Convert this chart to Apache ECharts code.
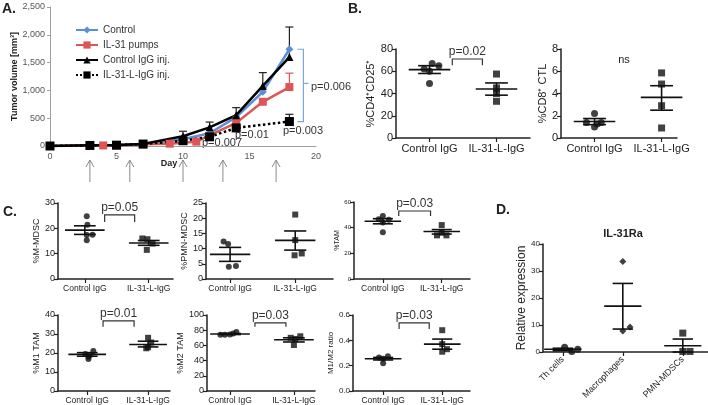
<!DOCTYPE html>
<html><head><meta charset="utf-8">
<script src="https://cdn.jsdelivr.net/npm/echarts@6/dist/echarts.min.js"></script>
<style>html,body{margin:0;padding:0;background:#fff}#c{width:708px;height:405px}</style>
</head><body><div id="c"></div>
<script>
// ================= DATA =================
// Panel A: tumor volume (mm3) by day
const ctrlDays = [0, 3, 5, 7, 10, 12, 14, 16, 18];
const ctrlVol  = [0, 10, 15, 35, 120, 230, 520, 975, 1740];
const pumpDays = [0, 4, 5, 7, 9, 11, 14, 16, 18];
const pumpVol  = [0, 10, 12, 30, 42, 78, 416, 795, 1060];
const igDays   = [0, 3, 5, 7, 10, 12, 14, 16, 18];
const igVol    = [0, 12, 18, 38, 175, 335, 555, 1080, 1600];
const lDays    = [0, 3, 5, 7, 10, 12, 14, 18];
const lVol     = [0, 10, 15, 35, 95, 165, 325, 440];
const igErrDays = [10, 12, 14, 16, 18];
const igErrTop  = [265, 430, 690, 1320, 2140];
const pumpErrDays = [18];
const pumpErrTop  = [1310];
const lErrDays = [18];
const lErrTop  = [570];
const injectionDays = [3, 6, 10, 13, 17];
const seriesNamesA = ['Control', 'IL-31 pumps', 'Control IgG inj.', 'IL-31-L-IgG inj.'];
const pA = ['p=0.006', 'p=0.003', 'p=0.01', 'p=0.007'];

const twoGroups = ['Control IgG', 'IL-31-L-IgG'];
// [position, value] — position = group index with the horizontal scatter seen in the picture
const cd4Ctrl = [[1.0, 49], [0.92, 62], [1.0, 60], [1.04, 67], [1.14, 65]];
const cd4Il31 = [[2.0, 57.5], [2.0, 45], [2.0, 40], [2.0, 33]];
const cd4Stats = [[61.5, 58, 65], [44, 38.5, 49.5]];
const cd8Ctrl = [[1.0, 2.2], [0.88, 1.4], [1.0, 1.0], [1.1, 1.4], [1.04, 1.25]];
const cd8Il31 = [[2.0, 5.85], [2.0, 4.85], [2.0, 2.9], [2.0, 0.9]];
const cd8Stats = [[1.48, 1.2, 1.75], [3.65, 2.5, 4.7]];
const mmdscCtrl = [[1.03, 24.8], [1.04, 21.4], [1.03, 17.4], [1.12, 17.5], [1.03, 15.3]];
const mmdscIl31 = [[1.9, 16.0], [1.98, 15.7], [2.06, 14.0], [1.97, 11.5]];
const mmdscStats = [[19.3, 17.6, 21.0], [14.2, 13.3, 15.2]];
const pmnCtrl = [[0.9, 12.3], [0.97, 11.5], [0.98, 4.0], [1.09, 4.3]];
const pmnIl31 = [[2.0, 21.2], [2.0, 12.8], [2.1, 8.4], [1.99, 7.8]];
const pmnStats = [[8.1, 5.8, 10.4], [12.7, 9.5, 15.8]];
const tamCtrl = [[1.0, 49], [0.93, 46.5], [1.1, 46.2], [1.0, 44], [1.0, 36.5]];
const tamIl31 = [[2.0, 42], [2.0, 36], [1.92, 34], [2.08, 34]];
const tamStats = [[45, 43, 47], [37, 35, 38.5]];
const m1Ctrl = [[1.1, 21], [0.97, 19.5], [1.05, 19], [1.02, 18], [1.02, 16.8]];
const m1Il31 = [[2.0, 28], [2.05, 25.5], [2.0, 23], [1.97, 22.5]];
const m1Stats = [[19.3, 18.3, 20.2], [24.5, 23.2, 26.2]];
const m2Ctrl = [[1.1, 77.5], [1.05, 75.5], [1.0, 74.3], [0.92, 74], [0.85, 74]];
const m2Il31 = [[2.1, 72], [1.95, 70], [2.02, 68.5], [2.0, 60.5]];
const m2Stats = [[75, 74.3, 75.7], [67.5, 64.5, 70]];
const ratioCtrl = [[1.08, 0.275], [0.93, 0.265], [1.0, 0.255], [1.0, 0.22]];
const ratioIl31 = [[2.0, 0.48], [2.0, 0.37], [2.08, 0.33], [2.0, 0.31]];
const ratioStats = [[0.255, 0.245, 0.265], [0.37, 0.33, 0.41]];
const pB = 'p=0.02', pC1 = 'p=0.05', pC3 = 'p=0.03', pC4 = 'p=0.01', pC5 = 'p=0.03', pC6 = 'p=0.03';

// Panel D
const cellTypes = ['Th cells', 'Macrophages', 'PMN-MDSCs'];
const dTh  = [[1.03, 1.8], [1.15, 0.2], [1.25, 1.0]];
const dMac = [[2.0, 33.5], [2.12, 9.3], [2.0, 7.8]];
const dPmn = [[3.0, 7.0], [3.0, 0.2], [3.12, 0.2]];
const dStats = [[1.0, 0.5, 1.4], [17, 8.5, 25.4], [2.3, 0, 4.8]];

// ================= BUILD =================
const FONT = '"Liberation Sans", Arial, sans-serif';
const chart = echarts.init(document.getElementById('c'), null, {renderer: 'canvas'});
const grids = [], xAxes = [], yAxes = [], series = [];

// ---- Panel A ----
grids.push({left: 50, top: 7, width: 266, height: 139});
xAxes.push({type: 'value', gridIndex: 0, min: 0, max: 20, interval: 5,
  axisLine: {lineStyle: {color: '#a0a0a0', width: 1}}, axisTick: {show: false}, splitLine: {show: false},
  axisLabel: {fontSize: 9, color: '#555', fontFamily: FONT, margin: 6}});
yAxes.push({type: 'value', gridIndex: 0, min: 0, max: 2500, interval: 500,
  axisLine: {show: true, lineStyle: {color: '#a0a0a0', width: 1}}, axisTick: {show: true, length: 3, lineStyle: {color: '#a0a0a0'}},
  splitLine: {show: false}, axisLabel: {fontSize: 9, color: '#555', fontFamily: FONT, margin: 5},
  name: 'Tumor volume [mm³]', nameLocation: 'middle', nameGap: 30, nameRotate: 90,
  nameTextStyle: {fontSize: 9, fontWeight: 'bold', color: '#222', fontFamily: FONT}});
const zip = (a, b) => a.map((v, i) => [v, b[i]]);
const lineDefs = [
  {name: seriesNamesA[0], d: zip(ctrlDays, ctrlVol), color: '#5b8fd6', symbol: 'diamond', size: 8, type: 'solid'},
  {name: seriesNamesA[1], d: zip(pumpDays, pumpVol), color: '#dd5555', symbol: 'rect', size: 8, type: 'solid'},
  {name: seriesNamesA[2], d: zip(igDays, igVol), color: '#000000', symbol: 'triangle', size: 8, type: 'solid'},
  {name: seriesNamesA[3], d: zip(lDays, lVol), color: '#000000', symbol: 'rect', size: 9, type: 'dotted'}
];
lineDefs.forEach(s => series.push({type: 'line', name: s.name, xAxisIndex: 0, yAxisIndex: 0, data: s.d,
  symbol: s.symbol, symbolSize: s.size, showSymbol: true, color: s.color,
  itemStyle: {color: s.color}, lineStyle: {color: s.color, width: 2.5, type: s.type},
  smooth: false, animation: false, z: 3}));
function errSeries(days, vals, tops, color) {
  const data = days.map((d, i) => [d, vals[i], tops[i]]);
  return {type: 'custom', xAxisIndex: 0, yAxisIndex: 0, data, z: 2, silent: true, animation: false,
    renderItem: (p, api) => {
      const b = api.coord([api.value(0), api.value(1)]), t = api.coord([api.value(0), api.value(2)]);
      const st = {stroke: color, lineWidth: 1.2};
      return {type: 'group', children: [
        {type: 'line', shape: {x1: b[0], y1: b[1], x2: t[0], y2: t[1]}, style: st},
        {type: 'line', shape: {x1: t[0] - 4, y1: t[1], x2: t[0] + 4, y2: t[1]}, style: st}]};
    }};
}
const valAt = (days, vals, d) => vals[days.indexOf(d)];
series.push(errSeries(igErrDays, igErrDays.map(d => valAt(igDays, igVol, d)), igErrTop, '#222'));
series.push(errSeries(pumpErrDays, pumpErrDays.map(d => valAt(pumpDays, pumpVol, d)), pumpErrTop, '#dd5555'));
series.push(errSeries(lErrDays, lErrDays.map(d => valAt(lDays, lVol, d)), lErrTop, '#222'));
// significance bracket between Control and IL-31-L-IgG at day 18
series.push({type: 'custom', xAxisIndex: 0, yAxisIndex: 0, clip: false, silent: true, animation: false,
  data: [[18, valAt(ctrlDays, ctrlVol, 18), valAt(lDays, lVol, 18)]],
  renderItem: (p, api) => {
    const t = api.coord([api.value(0), api.value(1)]), b = api.coord([api.value(0), api.value(2)]);
    const x = t[0] + 14, st = {stroke: '#7ba6d8', lineWidth: 1.2}, my = (t[1] + b[1]) / 2 - 2;
    return {type: 'group', children: [
      {type: 'polyline', shape: {points: [[x - 6, t[1]], [x, t[1]], [x, b[1]], [x - 6, b[1]]]}, style: Object.assign({fill: null}, st)},
      {type: 'line', shape: {x1: x, y1: my, x2: x + 5, y2: my}, style: st}]};
  }});
// injection arrows below the axis
series.push({type: 'custom', xAxisIndex: 0, yAxisIndex: 0, clip: false, silent: true, animation: false,
  data: injectionDays.map(d => [d, 0]),
  renderItem: (p, api) => {
    const c = api.coord([api.value(0), 0]), y0 = c[1] + 14, y1 = c[1] + 36, st = {stroke: '#8a8a8a', lineWidth: 1, fill: null};
    return {type: 'group', children: [
      {type: 'line', shape: {x1: c[0], y1: y0, x2: c[0], y2: y1}, style: st},
      {type: 'polyline', shape: {points: [[c[0] - 4, y0 + 7], [c[0], y0], [c[0] + 4, y0 + 7]]}, style: st}]};
  }});

// ---- dot plot panels ----
function meanSemRender(p, api) {
  const x = api.value(0), m = api.value(1), lo = api.value(2), hi = api.value(3);
  const unit = api.size([1, 0])[0];
  const pm = api.coord([x, m]), pl = api.coord([x, lo]), ph = api.coord([x, hi]);
  const mw = unit * 0.31, cw = unit * 0.17, st = {stroke: '#111', lineWidth: 1.6};
  return {type: 'group', children: [
    {type: 'line', shape: {x1: pm[0] - mw, y1: pm[1], x2: pm[0] + mw, y2: pm[1]}, style: st},
    {type: 'line', shape: {x1: pl[0], y1: pl[1], x2: ph[0], y2: ph[1]}, style: st},
    {type: 'line', shape: {x1: pl[0] - cw, y1: pl[1], x2: pl[0] + cw, y2: pl[1]}, style: st},
    {type: 'line', shape: {x1: ph[0] - cw, y1: ph[1], x2: ph[0] + cw, y2: ph[1]}, style: st}]};
}
const panels = [
  {grid: {left: 396, top: 49, width: 134, height: 89}, xMin: 0.5, xMax: 2.5, yMax: 80, yInt: 20, names: twoGroups,
   yName: '%CD4⁺CD25⁺', nameGap: 14, nameFont: 11, tickFont: 11, catFont: 11, pts: [cd4Ctrl, cd4Il31], sym: ['circle', 'rect'], symSize: 7,
   stats: cd4Stats, br: {x1: 1.34, x2: 1.79, top: 71, tip: 65.5, text: pB, font: 12}},
  {grid: {left: 561, top: 49, width: 116, height: 89}, xMin: 0.5, xMax: 2.23, yMax: 8, yInt: 2, names: twoGroups,
   yName: '%CD8⁺ CTL', nameGap: 11, nameFont: 11, tickFont: 11, catFont: 11, pts: [cd8Ctrl, cd8Il31], sym: ['circle', 'rect'], symSize: 7,
   stats: cd8Stats},
  {grid: {left: 58, top: 203, width: 115, height: 76}, xMin: 0.58, xMax: 2.38, yMax: 30, yInt: 10, names: twoGroups,
   yName: '%M-MDSC', nameGap: 14, nameFont: 9, tickFont: 9, catFont: 8.5, pts: [mmdscCtrl, mmdscIl31], sym: ['circle', 'rect'], symSize: 6,
   stats: mmdscStats, br: {x1: 1.31, x2: 1.78, top: 25.3, tip: 22.5, text: pC1, font: 12}},
  {grid: {left: 206, top: 203, width: 127, height: 76}, xMin: 0.63, xMax: 2.58, yMax: 25, yInt: 5, names: twoGroups,
   yName: '%PMN-MDSC', nameGap: 12, nameFont: 9, tickFont: 9, catFont: 8.5, pts: [pmnCtrl, pmnIl31], sym: ['circle', 'rect'], symSize: 6,
   stats: pmnStats},
  {grid: {left: 354, top: 202, width: 116, height: 77}, xMin: 0.51, xMax: 2.48, yMax: 60, yInt: 20, names: twoGroups,
   yName: '%TAM', nameGap: 13, nameFont: 7, tickFont: 6, catFont: 8.5, pts: [tamCtrl, tamIl31], sym: ['circle', 'rect'], symSize: 6,
   stats: tamStats, br: {x1: 1.27, x2: 1.81, top: 53, tip: 49, text: pC3, font: 12}},
  {grid: {left: 58, top: 315, width: 112, height: 78}, xMin: 0.52, xMax: 2.36, yMax: 40, yInt: 10, names: twoGroups,
   yName: '%M1 TAM', nameGap: 12, nameFont: 9, tickFont: 9, catFont: 8.5, pts: [m1Ctrl, m1Il31], sym: ['circle', 'rect'], symSize: 6,
   stats: m1Stats, br: {x1: 1.26, x2: 1.77, top: 36.9, tip: 33.8, text: pC4, font: 12}},
  {grid: {left: 207, top: 315, width: 108, height: 78}, xMin: 0.64, xMax: 2.33, yMax: 100, yInt: 20, names: twoGroups,
   yName: '%M2 TAM', nameGap: 13, nameFont: 9, tickFont: 9, catFont: 8.5, pts: [m2Ctrl, m2Il31], sym: ['circle', 'rect'], symSize: 6,
   stats: m2Stats, br: {x1: 1.39, x2: 1.875, top: 89.7, tip: 84.6, text: pC5, font: 12}},
  {grid: {left: 353, top: 315, width: 117, height: 77}, xMin: 0.49, xMax: 2.47, yMax: 0.6, yInt: 0.2, names: twoGroups,
   yName: 'M1/M2 ratio', nameGap: 14, nameFont: 8, tickFont: 8, catFont: 8.5, decimals: 1, pts: [ratioCtrl, ratioIl31], sym: ['circle', 'rect'], symSize: 6,
   stats: ratioStats, br: {x1: 1.27, x2: 1.78, top: 0.538, tip: 0.49, text: pC6, font: 12}},
  {grid: {left: 543, top: 244, width: 165, height: 108}, xMin: 0.67, xMax: 3.42, yMax: 40, yInt: 10, names: cellTypes,
   yName: 'Relative expression', nameGap: 15, nameFont: 12, tickFont: 8, catFont: 9, rotate: 45, pts: [dTh, dMac, dPmn], sym: ['circle', 'diamond', 'rect'], symSize: 7,
   stats: dStats}
];
panels.forEach(pn => {
  const gi = grids.length;
  grids.push(pn.grid);
  const cats = pn.names.map((n, i) => i + 1);
  xAxes.push({type: 'value', gridIndex: gi, min: pn.xMin, max: pn.xMax,
    axisLine: {show: true, onZero: false, lineStyle: {color: '#222', width: 1.5}},
    axisTick: {show: true, customValues: cats, length: 4, lineStyle: {color: '#222', width: 1.2}},
    splitLine: {show: false},
    axisLabel: {customValues: cats, formatter: v => pn.names[Math.round(v) - 1], fontSize: pn.catFont, color: '#222',
      fontFamily: FONT, margin: pn.rotate ? 6 : 5, rotate: pn.rotate || 0}});
  yAxes.push({type: 'value', gridIndex: gi, min: 0, max: pn.yMax, interval: pn.yInt,
    axisLine: {show: true, lineStyle: {color: '#222', width: 1.5}},
    axisTick: {show: true, length: 4, lineStyle: {color: '#222', width: 1.2}}, splitLine: {show: false},
    axisLabel: {fontSize: pn.tickFont, color: '#222', fontFamily: FONT, margin: 3,
      formatter: pn.decimals ? (v => v.toFixed(pn.decimals)) : null},
    name: pn.yName, nameLocation: 'middle', nameRotate: 90, nameGap: pn.nameGap,
    nameTextStyle: {fontSize: pn.nameFont, color: '#222', fontFamily: FONT}});
  pn.pts.forEach((pts, k) => series.push({type: 'scatter', xAxisIndex: gi, yAxisIndex: gi, data: pts,
    symbol: pn.sym[k], symbolSize: pn.symSize, itemStyle: {color: '#111'}, animation: false, z: 3}));
  series.push({type: 'custom', xAxisIndex: gi, yAxisIndex: gi, silent: true, animation: false, z: 2,
    data: pn.stats.map((s, i) => [i + 1, s[0], s[1], s[2]]), renderItem: meanSemRender});
  if (pn.br) {
    const br = pn.br;
    series.push({type: 'custom', xAxisIndex: gi, yAxisIndex: gi, clip: false, silent: true, animation: false,
      data: [[br.x1, br.x2, br.top, br.tip]],
      renderItem: (p, api) => {
        const a = api.coord([api.value(0), api.value(2)]), b = api.coord([api.value(1), api.value(2)]);
        const tip = api.coord([api.value(0), api.value(3)])[1];
        return {type: 'group', children: [
          {type: 'polyline', shape: {points: [[a[0], tip], [a[0], a[1]], [b[0], b[1]], [b[0], tip]]},
           style: {stroke: '#333', lineWidth: 1.2, fill: null}},
          {type: 'text', x: (a[0] + b[0]) / 2, y: a[1] - 1,
           style: {text: br.text, fontSize: br.font, fill: '#333', fontFamily: FONT, align: 'center', verticalAlign: 'bottom'}}]};
      }});
  }
});

const txt = (x, y, text, o) => Object.assign({type: 'text', x, y,
  style: Object.assign({text, fontFamily: FONT, fill: '#222', fontSize: 11}, o || {})});
const graphics = [
  txt(2, 2, 'A.', {fontSize: 14, fontWeight: 'bold'}),
  txt(348, 2, 'B.', {fontSize: 14, fontWeight: 'bold'}),
  txt(3, 205, 'C.', {fontSize: 14, fontWeight: 'bold'}),
  txt(496, 203, 'D.', {fontSize: 14, fontWeight: 'bold'}),
  txt(169, 164, 'Day', {fontSize: 9, fontWeight: 'bold', align: 'center', verticalAlign: 'middle'}),
  txt(311, 87, pA[0], {fontSize: 11, fill: '#333', verticalAlign: 'middle'}),
  txt(283, 131, pA[1], {fontSize: 11, fill: '#333', verticalAlign: 'middle'}),
  txt(235, 135, pA[2], {fontSize: 11, fill: '#333', verticalAlign: 'middle'}),
  txt(202, 143, pA[3], {fontSize: 11, fill: '#333', verticalAlign: 'middle'}),
  txt(624, 60, 'ns', {fontSize: 11, align: 'center', verticalAlign: 'middle'}),
  txt(623, 234, 'IL-31Ra', {fontSize: 11, fontWeight: 'bold', align: 'center', verticalAlign: 'middle'})
];

chart.setOption({
  animation: false,
  backgroundColor: '#fff',
  grid: grids, xAxis: xAxes, yAxis: yAxes, series,
  legend: {data: seriesNamesA, orient: 'vertical', left: 70, top: 20, itemWidth: 22, itemHeight: 9, itemGap: 5,
    textStyle: {fontSize: 10, color: '#333', fontFamily: FONT}},
  graphic: graphics
});
</script></body></html>
